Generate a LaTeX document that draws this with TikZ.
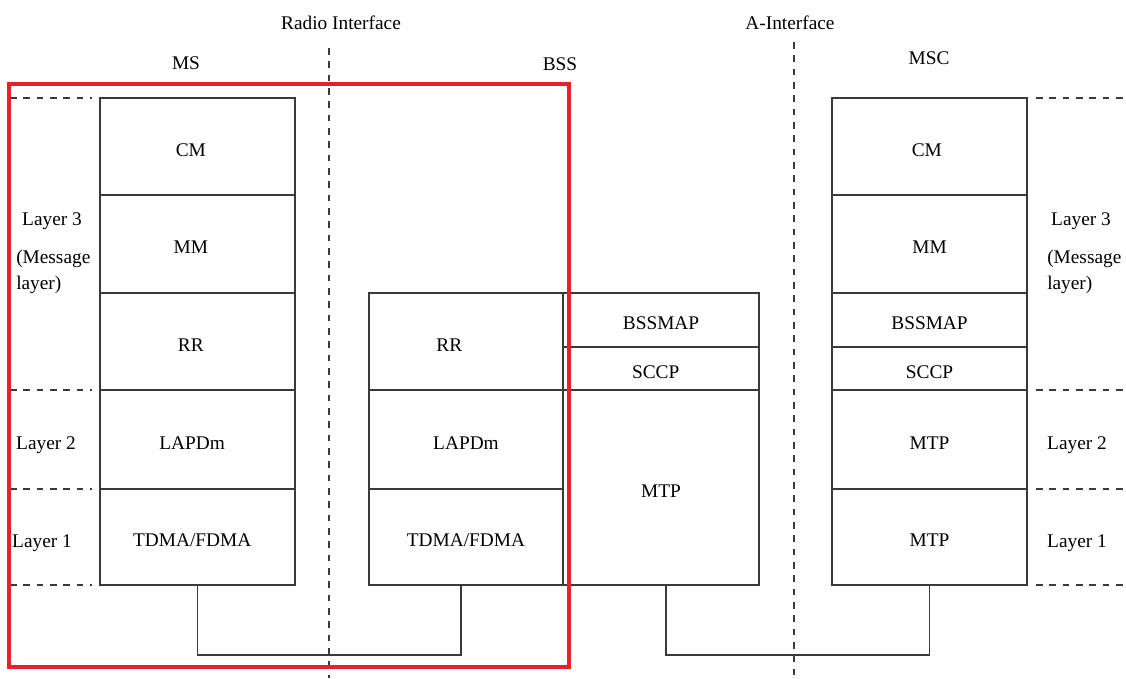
\documentclass[tikz,border=0pt]{standalone}
\usepackage{fontspec}
\setmainfont{Liberation Serif}
\usetikzlibrary{positioning}
\definecolor{boxline}{HTML}{3A3A3A}
\definecolor{markred}{HTML}{E8202A}

\begin{document}
\begin{tikzpicture}[
    x=0.75pt, y=-0.75pt,
    font=\fontsize{14.5}{17}\selectfont,
    box/.style 2 args={rectangle, draw=boxline, line width=1pt, minimum width=#1*0.75pt, minimum height=#2*0.75pt, inner sep=0pt, outer sep=0pt, text height=14.5pt, text depth=0pt},
    textleft/.style={execute at end node={\hspace*{#1}}},
    layerline/.style={draw=boxline, line width=1pt, dash pattern=on 5pt off 5pt},
    link/.style={draw=boxline, line width=1pt},
    tag/.style={inner sep=0pt}
]
\useasboundingbox (0,0) rectangle (1126,678);

% Interfaces
\draw[layerline] (329,48) -- (329,678);
\draw[layerline] (794,42) -- (794,678);
\node[tag] (radio_if) at (341,23) {Radio Interface};
\node[tag] (a_if) at (790,23) {A-Interface};

% Entities
\node[tag] (ms_title) at (186,63) {MS};
\node[tag] (bss_title) at (560,64) {BSS};
\node[tag] (msc_title) at (929,58) {MSC};

% MS stack
\node[box={195}{97}, textleft=10pt] (ms_cm) at (197.5,146.5) {CM};
\node[box={195}{98}, textleft=10pt] (ms_mm) at (197.5,244) {MM};
\node[box={195}{97}, textleft=10pt] (ms_rr) at (197.5,341.5) {RR};
\node[box={195}{99}, textleft=8pt] (ms_lapdm) at (197.5,439.5) {LAPDm};
\node[box={195}{96}, textleft=8pt] (ms_phy) at (197.5,537) {TDMA/FDMA};

% BSS stack
\node[box={194}{97}, textleft=25pt] (bss_rr) at (466,341.5) {RR};
\node[box={194}{99}] (bss_lapdm) at (466,439.5) {LAPDm};
\node[box={194}{96}] (bss_phy) at (466,537) {TDMA/FDMA};
\node[box={196}{54}] (bss_bssmap) at (661,320) {BSSMAP};
\node[box={196}{43}, textleft=8pt] (bss_sccp) at (661,368.5) {SCCP};
\node[box={196}{195}] (bss_mtp) at (661,487.5) {MTP};

% MSC stack
\node[box={195}{97}, textleft=4pt] (msc_cm) at (929.5,146.5) {CM};
\node[box={195}{98}] (msc_mm) at (929.5,244) {MM};
\node[box={195}{54}] (msc_bssmap) at (929.5,320) {BSSMAP};
\node[box={195}{43}] (msc_sccp) at (929.5,368.5) {SCCP};
\node[box={195}{99}] (msc_mtp2) at (929.5,439.5) {MTP};
\node[box={195}{96}] (msc_mtp1) at (929.5,537) {MTP};

% Physical links
\draw[link] (ms_phy.south) -- ++(0,70) -| ([xshift=-3.75pt]bss_phy.south);
\draw[link] ([xshift=3.75pt]bss_mtp.south) -- ++(0,70) -| (msc_mtp1.south);

% Layer borders
\foreach \y in {98,390,489,585} {
    \draw[layerline] (10,\y) -- (92,\y);
    \draw[layerline] (1036,\y) -- (1126,\y);
}

% Layer names
\node[tag] (l3_left) at (52,221) {Layer 3};
\node[tag, anchor=west, align=left, font=\fontsize{14.5}{19.5}\selectfont] (msg_left) at (16,272) {(Message\\layer)};
\node[tag] (l2_left) at (46,445) {Layer 2};
\node[tag] (l1_left) at (42,543) {Layer 1};
\node[tag] (l3_right) at (1081,221) {Layer 3};
\node[tag, anchor=west, align=left, font=\fontsize{14.5}{19.5}\selectfont] (msg_right) at (1047,272) {(Message\\layer)};
\node[tag] (l2_right) at (1077,445) {Layer 2};
\node[tag] (l1_right) at (1077,543) {Layer 1};

% Highlight
\draw[markred, line width=3pt] (9,84) rectangle (569,667);

\end{tikzpicture}
\end{document}
